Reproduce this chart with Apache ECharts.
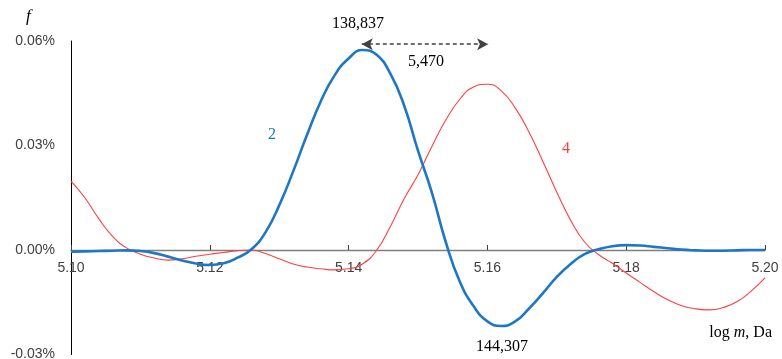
<!DOCTYPE html>
<html>
<head>
<meta charset="utf-8">
<script src="https://cdn.jsdelivr.net/npm/echarts@6/dist/echarts.min.js"></script>
<style>
html,body{margin:0;padding:0;background:#fff;}
#chart{width:782px;height:359px;}
</style>
</head>
<body>
<div id="chart"></div>
<script>
// log m values (Da), step 0.002
var logM = [5.100,5.102,5.104,5.106,5.108,5.110,5.112,5.114,5.116,5.118,
            5.120,5.122,5.124,5.126,5.128,5.130,5.132,5.134,5.136,5.138,
            5.140,5.142,5.144,5.146,5.148,5.150,5.152,5.154,5.156,5.158,
            5.160,5.162,5.164,5.166,5.168,5.170,5.172,5.174,5.176,5.178,
            5.180,5.182,5.184,5.186,5.188,5.190,5.192,5.194,5.196,5.198,5.200];
// curve 2 (blue), f in %
var curve2 = [-0.0005,-0.0004,-0.0003,-0.0002,-0.0001,-0.0003,-0.0009,-0.0019,-0.0030,-0.0039,
              -0.0043,-0.0038,-0.0022,0.0002,0.0050,0.0128,0.0225,0.0330,0.0427,0.0502,
              0.0550,0.0574,0.0561,0.0507,0.0415,0.0285,0.0165,0.0023,-0.0090,-0.0161,
              -0.0205,-0.0218,-0.0205,-0.0168,-0.0124,-0.0077,-0.0040,-0.0012,0.0002,0.0011,
              0.0014,0.0013,0.0009,0.0005,0.0001,-0.0001,-0.0002,-0.0002,-0.0001,0.0000,0.0000];
// curve 4 (red), f in %
var curve4 = [0.0198,0.0150,0.0090,0.0039,0.0006,-0.0012,-0.0023,-0.0029,-0.0025,-0.0018,
              -0.0012,-0.0007,-0.0002,0.0000,-0.0010,-0.0025,-0.0040,-0.0049,-0.0054,-0.0057,
              -0.0054,-0.0040,-0.0002,0.0067,0.0147,0.0216,0.0297,0.0373,0.0432,0.0468,
              0.0476,0.0457,0.0408,0.0338,0.0254,0.0166,0.0085,0.0023,-0.0013,-0.0038,
              -0.0066,-0.0093,-0.0120,-0.0143,-0.0160,-0.0169,-0.0172,-0.0165,-0.0148,-0.0118,-0.0080];
// peak-to-peak arrow (log m at peaks, level in %)
var arrowX = [5.1419, 5.1601];
var arrowY = 0.0591;
var xTicks = [5.10, 5.12, 5.14, 5.16, 5.18, 5.20];
var yTicks = [-0.03, 0.00, 0.03, 0.06];

function pairs(xs, ys){ return xs.map(function(x,i){ return [x, ys[i]]; }); }

var chart = echarts.init(document.getElementById('chart'), null, {renderer:'canvas'});
var labelFont = 'Liberation Sans, Arial, sans-serif';
var serif = 'Liberation Serif, Times New Roman, serif';

var gridTop = 41, gridBottom = 4.5, H = 359;
var plotH = H - gridTop - gridBottom;
// distance from grid bottom to the zero line
var zeroOffset = plotH * (0 - yTicks[0]) / (yTicks[yTicks.length-1] - yTicks[0]);

chart.setOption({
  animation: false,
  backgroundColor: '#ffffff',
  grid: {left: 71, right: 17, top: gridTop, bottom: gridBottom, containLabel: false, outerBoundsMode: 'none'},
  xAxis: {
    type: 'value', min: xTicks[0], max: xTicks[xTicks.length-1], interval: 0.02,
    offset: -zeroOffset,
    axisLine: {onZero: false, lineStyle: {color: '#7f7f7f', width: 1.3}},
    axisTick: {show: true, inside: true, length: 5, lineStyle: {color: '#404040'}},
    splitLine: {show: false},
    axisLabel: {color: '#404040', fontFamily: labelFont, fontSize: 14, margin: 11,
      formatter: function(v){ return v.toFixed(2); }}
  },
  yAxis: {
    type: 'value', min: yTicks[0], max: yTicks[yTicks.length-1], interval: 0.03,
    axisLine: {show: true, onZero: false, lineStyle: {color: '#000000', width: 1}},
    axisTick: {show: false},
    splitLine: {show: false},
    axisLabel: {color: '#404040', fontFamily: labelFont, fontSize: 14, margin: 16,
      formatter: function(v){ return v.toFixed(2) + '%'; }}
  },
  series: [
    {
      name: '4', type: 'line', data: pairs(logM, curve4), smooth: 0.5, showSymbol: false,
      lineStyle: {color: '#ff4040', width: 1.1}, z: 2
    },
    {
      name: '2', type: 'line', data: pairs(logM, curve2), smooth: 0.5, showSymbol: false,
      lineStyle: {color: '#1f77c4', width: 2.6}, z: 3,
      markLine: {
        silent: true, symbol: ['arrow','arrow'], symbolSize: [9, 11],
        label: {show: false},
        lineStyle: {color: '#404040', type: [4, 3], width: 1.5},
        data: [[{coord: [arrowX[0], arrowY]}, {coord: [arrowX[1], arrowY]}]]
      }
    }
  ],
  graphic: [
    {type:'text', left: 26, top: 8, style:{text:'f', font:'italic 17px ' + serif, fill:'#000'}},
    {type:'text', x: 358, y: 24, style:{text:'138,837', font:'16px ' + serif, fill:'#000', align:'center', verticalAlign:'middle'}},
    {type:'text', x: 426, y: 62, style:{text:'5,470', font:'16px ' + serif, fill:'#000', align:'center', verticalAlign:'middle'}},
    {type:'text', x: 272, y: 135, style:{text:'2', font:'16px ' + serif, fill:'#1f77c4', align:'center', verticalAlign:'middle'}},
    {type:'text', x: 566, y: 149, style:{text:'4', font:'16px ' + serif, fill:'#ff4040', align:'center', verticalAlign:'middle'}},
    {type:'text', x: 502, y: 347, style:{text:'144,307', font:'16px ' + serif, fill:'#000', align:'center', verticalAlign:'middle'}},
    {type:'text', x: 772, y: 333, style:{
      text:'{a|log }{b|m}{a|, Da}', align:'right', verticalAlign:'middle',
      rich:{a:{font:'16px ' + serif, fill:'#000'}, b:{font:'italic 16px ' + serif, fill:'#000'}}
    }}
  ]
});
</script>
</body>
</html>
